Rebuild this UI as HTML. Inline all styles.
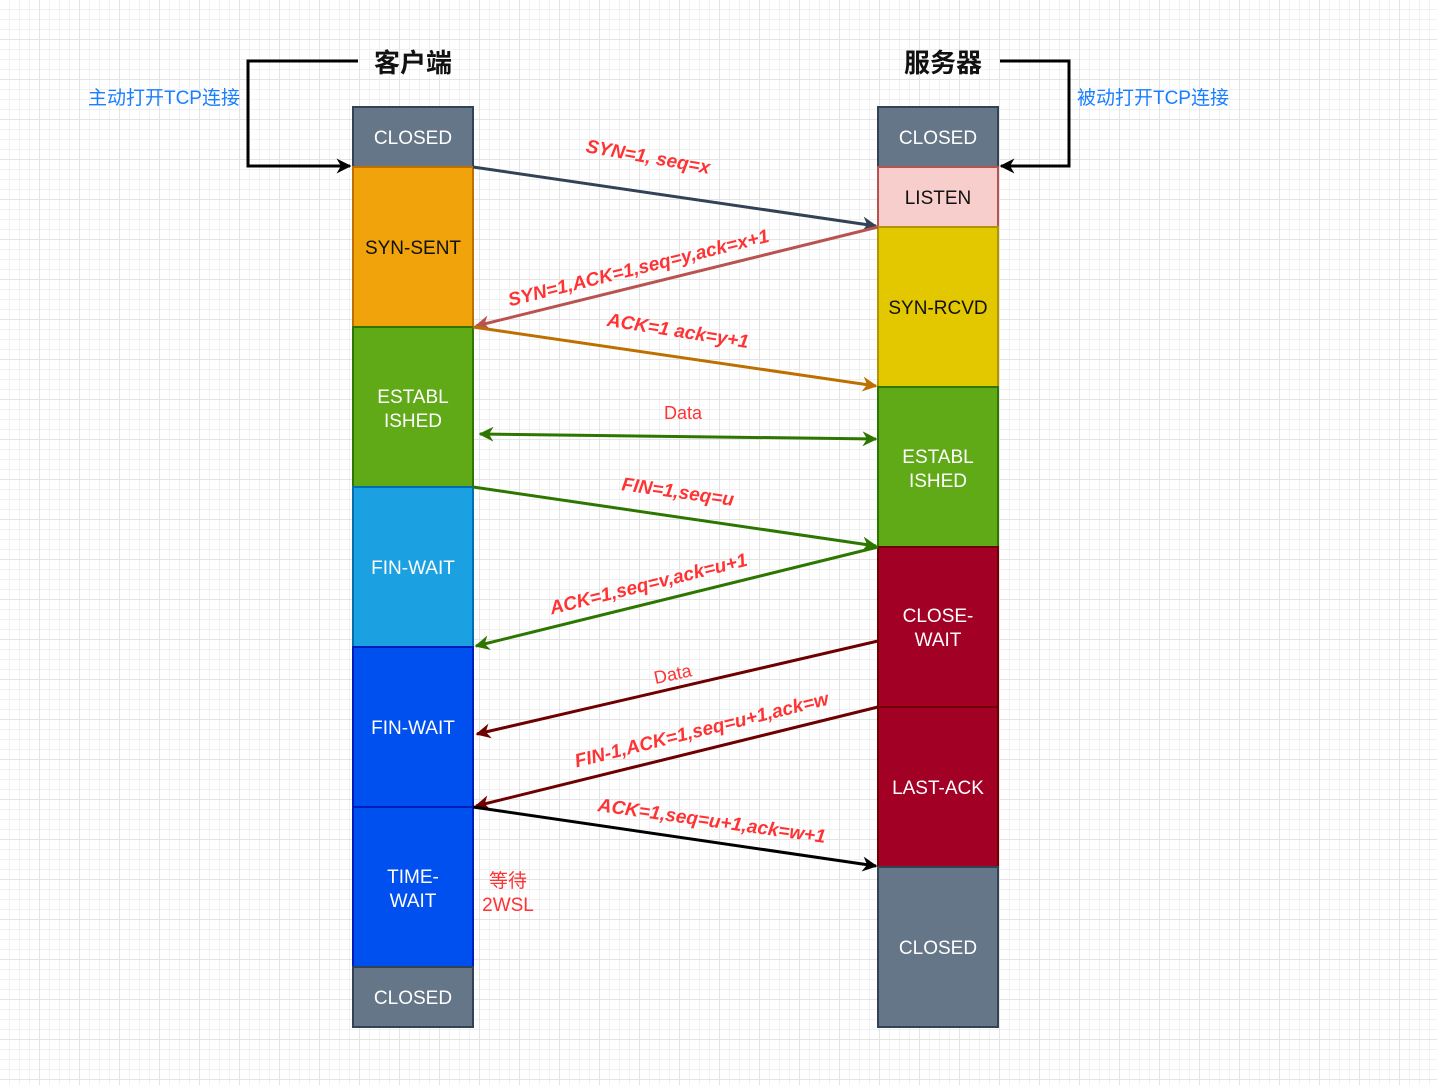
<!DOCTYPE html>
<html><head><meta charset="utf-8"><style>
html,body{margin:0;padding:0;}
body{width:1437px;height:1085px;overflow:hidden;background:#fff;
background-image:linear-gradient(#e4e4e4 1px,transparent 1px),linear-gradient(90deg,#e4e4e4 1px,transparent 1px),linear-gradient(#f1f1f1 1px,transparent 1px),linear-gradient(90deg,#f1f1f1 1px,transparent 1px);
background-size:40px 40px,40px 40px,10px 10px,10px 10px;background-position:-1px -1px;}
svg{position:absolute;left:0;top:0}
text{font-family:"Liberation Sans","Noto Sans CJK SC",sans-serif}
.w{fill:#fff;font-size:19px;text-anchor:middle}
.k{fill:#111;font-size:19px;text-anchor:middle}
.r{fill:#ff3333;font-size:19px;font-style:italic;font-weight:bold;text-anchor:middle}
</style></head><body>
<svg width="1437" height="1085" viewBox="0 0 1437 1085">
<defs>
<marker id="a0" viewBox="0 0 10 10" refX="9" refY="5" markerWidth="5" markerHeight="5" orient="auto-start-reverse"><path d="M0,0L10,5L0,10L3,5z" fill="context-stroke"/></marker>
</defs>
<g stroke-width="2">
<rect x="353" y="107" width="120" height="60" fill="#647687" stroke="#314354"/>
<rect x="353" y="167" width="120" height="160" fill="#f0a30a" stroke="#BD7000"/>
<rect x="353" y="327" width="120" height="160" fill="#60a917" stroke="#2D7600"/>
<rect x="353" y="487" width="120" height="160" fill="#1ba1e2" stroke="#006EAF"/>
<rect x="353" y="647" width="120" height="160" fill="#0050ef" stroke="#001DBC"/>
<rect x="353" y="807" width="120" height="160" fill="#0050ef" stroke="#001DBC"/>
<rect x="353" y="967" width="120" height="60" fill="#647687" stroke="#314354"/>
<rect x="878" y="107" width="120" height="60" fill="#647687" stroke="#314354"/>
<rect x="878" y="167" width="120" height="60" fill="#f8cecc" stroke="#b85450"/>
<rect x="878" y="227" width="120" height="160" fill="#e3c800" stroke="#B09500"/>
<rect x="878" y="387" width="120" height="160" fill="#60a917" stroke="#2D7600"/>
<rect x="878" y="547" width="120" height="160" fill="#a20025" stroke="#6F0000"/>
<rect x="878" y="707" width="120" height="160" fill="#a20025" stroke="#6F0000"/>
<rect x="878" y="867" width="120" height="160" fill="#647687" stroke="#314354"/>
</g>
<text class="w" x="413" y="144">CLOSED</text>
<text class="k" x="413" y="254">SYN-SENT</text>
<text class="w" x="413" y="403">ESTABL</text><text class="w" x="413" y="427">ISHED</text>
<text class="w" x="413" y="574">FIN-WAIT</text>
<text class="w" x="413" y="734">FIN-WAIT</text>
<text class="w" x="413" y="883">TIME-</text><text class="w" x="413" y="907">WAIT</text>
<text class="w" x="413" y="1004">CLOSED</text>
<text class="w" x="938" y="144">CLOSED</text>
<text class="k" x="938" y="204">LISTEN</text>
<text class="k" x="938" y="314">SYN-RCVD</text>
<text class="w" x="938" y="463">ESTABL</text><text class="w" x="938" y="487">ISHED</text>
<text class="w" x="938" y="622">CLOSE-</text><text class="w" x="938" y="646">WAIT</text>
<text class="w" x="938" y="794">LAST-ACK</text>
<text class="w" x="938" y="954">CLOSED</text>

<text x="413" y="72" style="font-size:26px;font-weight:bold;text-anchor:middle" fill="#111">客户端</text>
<text x="943" y="72" style="font-size:26px;font-weight:bold;text-anchor:middle" fill="#111">服务器</text>
<text x="164" y="104" style="font-size:19px;text-anchor:middle" fill="#1a7fff">主动打开TCP连接</text>
<text x="1153" y="104" style="font-size:19px;text-anchor:middle" fill="#1a7fff">被动打开TCP连接</text>
<text x="508" y="887" style="font-size:19px;text-anchor:middle" fill="#ff3333">等待</text>
<text x="508" y="911" style="font-size:19px;text-anchor:middle" fill="#ff3333">2WSL</text>

<g fill="none" stroke-width="3">
<polyline points="358,61 248,61 248,166 350,166" stroke="#000" marker-end="url(#a0)"/>
<polyline points="1000,61 1069,61 1069,166 1001,166" stroke="#000" marker-end="url(#a0)"/>
<line x1="473" y1="167" x2="876" y2="226" stroke="#314354" marker-end="url(#a0)"/>
<line x1="878" y1="227" x2="476" y2="326" stroke="#b85450" marker-end="url(#a0)"/>
<line x1="473" y1="327" x2="876" y2="386" stroke="#BD7000" marker-end="url(#a0)"/>
<line x1="480" y1="434" x2="876" y2="439" stroke="#2D7600" marker-start="url(#a0)" marker-end="url(#a0)"/>
<line x1="473" y1="487" x2="876" y2="546" stroke="#2D7600" marker-end="url(#a0)"/>
<line x1="878" y1="547" x2="476" y2="646" stroke="#2D7600" marker-end="url(#a0)"/>
<line x1="878" y1="641" x2="477" y2="734" stroke="#6F0000" marker-end="url(#a0)"/>
<line x1="878" y1="707" x2="476" y2="806" stroke="#6F0000" marker-end="url(#a0)"/>
<line x1="473" y1="807" x2="876" y2="866" stroke="#000" marker-end="url(#a0)"/>
</g>
<text class="r" transform="translate(647,163) rotate(10)">SYN=1, seq=x</text>
<text class="r" transform="translate(640,274) rotate(-14)">SYN=1,ACK=1,seq=y,ack=x+1</text>
<text class="r" transform="translate(677,337) rotate(9)">ACK=1 ack=y+1</text>
<text x="683" y="419" style="font-size:18px;text-anchor:middle" fill="#ff3333">Data</text>
<text class="r" transform="translate(677,498) rotate(8)">FIN=1,seq=u</text>
<text class="r" transform="translate(650,590) rotate(-14)">ACK=1,seq=v,ack=u+1</text>
<text x="0" y="0" style="font-size:18px;text-anchor:middle" fill="#ff3333" transform="translate(674,680) rotate(-12)">Data</text>
<text class="r" transform="translate(703,736) rotate(-14)">FIN-1,ACK=1,seq=u+1,ack=w</text>
<text class="r" transform="translate(711,827) rotate(8)">ACK=1,seq=u+1,ack=w+1</text>
</svg>
</body></html>
